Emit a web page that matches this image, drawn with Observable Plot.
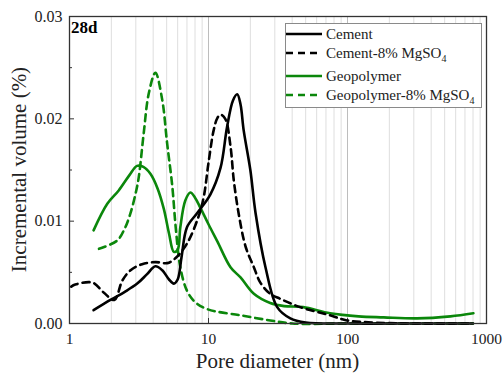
<!DOCTYPE html>
<html><head><meta charset="utf-8">
<script src="https://cdn.jsdelivr.net/npm/d3@7"></script>
<script src="https://cdn.jsdelivr.net/npm/@observablehq/plot@0.6"></script>
<style>
body{margin:0;background:#fff}
svg{font-family:"Liberation Serif",serif}
</style>
</head><body><div id="chart"></div>
<script>
// ---- data ----
const cementD = [1.49, 1.97, 2.5, 3.07, 3.6, 4.15, 4.65, 5.2, 5.63, 6.0, 6.4, 7.0, 8.3, 10.3, 12.2, 13.6, 15.0, 16.1, 17.0, 17.9, 20, 21.8, 25.7, 31.2, 38.8, 50, 100, 300, 800];
const cementV = [0.0013, 0.0023, 0.0031, 0.0039, 0.0048, 0.0056, 0.0052, 0.0043, 0.0039, 0.0043, 0.0065, 0.0094, 0.0108, 0.0126, 0.0152, 0.0192, 0.0218, 0.0224, 0.0214, 0.0189, 0.0150, 0.0108, 0.0055, 0.0016, 0.0005, 0.0001, 0.0000, 0.0000, 0.0000];

const cementMgD = [1.03, 1.10, 1.46, 1.77, 2.1, 2.4, 2.75, 3.33, 4.15, 5.05, 5.8, 7.0, 8.5, 9.25, 10.0, 10.9, 11.6, 12.2, 13.2, 14.4, 15.2, 16.5, 18.5, 21.2, 23.6, 27.8, 33, 45.6, 75, 99, 150, 300, 800];
const cementMgV = [0.0036, 0.0038, 0.0040, 0.0030, 0.0023, 0.0042, 0.0052, 0.0058, 0.0060, 0.0059, 0.0064, 0.0078, 0.0105, 0.0124, 0.0157, 0.0189, 0.0201, 0.0204, 0.0200, 0.0173, 0.0140, 0.0107, 0.0075, 0.0055, 0.0040, 0.0029, 0.0024, 0.0016, 0.0008, 0.0003, 0.0001, 0.0000, 0.0000];

const geoD = [1.49, 1.87, 2.26, 2.7, 3.06, 3.4, 3.83, 4.3, 4.77, 5.2, 5.63, 6.0, 6.27, 6.8, 7.4, 8.0, 8.75, 10.0, 11.6, 14.4, 17, 21.2, 27.8, 35, 48, 75, 120, 182, 316, 550, 805];
const geoV = [0.0091, 0.0117, 0.0130, 0.0145, 0.0154, 0.0153, 0.0146, 0.0132, 0.0112, 0.0088, 0.0070, 0.0072, 0.0094, 0.0120, 0.0128, 0.0123, 0.0113, 0.0097, 0.0080, 0.0055, 0.0045, 0.0029, 0.0020, 0.0017, 0.0016, 0.0010, 0.0007, 0.0006, 0.0005, 0.0007, 0.0010];

const geoMgD = [1.63, 2.2, 2.5, 2.75, 3.0, 3.15, 3.42, 3.72, 4.15, 4.64, 5.04, 5.49, 5.8, 6.27, 7.0, 8.0, 9.8, 17, 27.8, 40, 100, 800];
const geoMgV = [0.0073, 0.0081, 0.0093, 0.0108, 0.0128, 0.0143, 0.0186, 0.0225, 0.0245, 0.0219, 0.0176, 0.0134, 0.0095, 0.0055, 0.0032, 0.0021, 0.0014, 0.0008, 0.0003, 0.0000, 0.0000, 0.0000];

const seriesNames = ["Cement", "Cement-8% MgSO", "Geopolymer", "Geopolymer-8% MgSO"];
const xTicks = [1, 10, 100, 1000];
const yTicks = [0, 0.01, 0.02, 0.03];
const yMinor = [0.005, 0.015, 0.025];
const xMinor = [2,3,4,5,6,7,8,9,20,30,40,50,60,70,80,90,200,300,400,500,600,700,800,900];
const xMajorGrid = [10, 100];
const panelLabel = "28d";
const xTitle = "Pore diameter (nm)";
const yTitle = "Incremental volume (%)";

// ---- build ----
const toRows = (ds, vs) => ds.map((d, i) => ({d, v: vs[i]}));
const W = 504, H = 376, mL = 69, mR = 18, mT = 16, mB = 53;
const green = "#0b870b", black = "#000";
const lw = 2.6, dash = "7,5";
const frameH = H - mT - mB, frameW = W - mL - mR;

const chart = Plot.plot({
  width: W, height: H,
  marginLeft: mL, marginRight: mR, marginTop: mT, marginBottom: mB,
  style: {fontFamily: "Liberation Serif", fontSize: "16px", color: "#222", background: "#fff"},
  x: {type: "log", domain: [1, 1000]},
  y: {domain: [0, 0.03]},
  marks: [
    Plot.ruleX(xMinor, {stroke: "#dedede", strokeWidth: 1}),
    Plot.ruleX(xMajorGrid, {stroke: "#bdbdbd", strokeWidth: 1}),
    Plot.tickY(yTicks, {y: d => d, insetRight: frameW - 5, stroke: "#333"}),
    Plot.tickY(yMinor, {y: d => d, insetRight: frameW - 3, stroke: "#333"}),
    Plot.tickX(xTicks, {x: d => d, insetTop: frameH - 5, stroke: "#333"}),
    Plot.line(toRows(geoMgD, geoMgV), {x: "d", y: "v", stroke: green, strokeWidth: lw, strokeDasharray: dash, curve: "catmull-rom"}),
    Plot.line(toRows(geoD, geoV), {x: "d", y: "v", stroke: green, strokeWidth: lw, curve: "catmull-rom"}),
    Plot.line(toRows(cementMgD, cementMgV), {x: "d", y: "v", stroke: black, strokeWidth: lw, strokeDasharray: dash, curve: "catmull-rom"}),
    Plot.line(toRows(cementD, cementV), {x: "d", y: "v", stroke: black, strokeWidth: lw, curve: "catmull-rom"}),
    Plot.frame({stroke: "#333", strokeWidth: 1.3}),
    Plot.axisY({ticks: yTicks, tickSize: 0, tickPadding: 7, tickFormat: d3.format(".2f"), label: null, fontSize: 16}),
    Plot.axisX({ticks: xTicks, tickSize: 0, tickPadding: 9, tickFormat: d => String(d), label: null, fontSize: 15.5})
  ]
});
document.getElementById("chart").appendChild(chart);

const svg = d3.select(chart);
// axis titles
svg.append("text").attr("x", mL + frameW / 2).attr("y", H - 8).attr("text-anchor", "middle")
  .attr("font-size", 21).attr("fill", "#222").text(xTitle);
svg.append("text").attr("transform", `translate(26,${mT + frameH / 2}) rotate(-90)`).attr("text-anchor", "middle")
  .attr("font-size", 21).attr("fill", "#222").text(yTitle);
// panel label
svg.append("text").attr("x", mL + 2).attr("y", mT + 17).attr("font-size", 17).attr("font-weight", "bold")
  .attr("text-anchor", "start").attr("fill", "#000").text(panelLabel);

// legend
const lg = svg.append("g").attr("text-anchor", "start");
lg.append("rect").attr("x", 285.5).attr("y", 23.5).attr("width", 196).attr("height", 84)
  .attr("fill", "#fff").attr("stroke", "#8a8a8a").attr("stroke-width", 1);
const items = [
  {name: seriesNames[0], color: black, dashed: false, sub: false, y: 34},
  {name: seriesNames[1], color: black, dashed: true, sub: true, y: 53},
  {name: seriesNames[2], color: green, dashed: false, sub: false, y: 76},
  {name: seriesNames[3], color: green, dashed: true, sub: true, y: 95}
];
items.forEach(it => {
  lg.append("line").attr("x1", 286).attr("x2", 322).attr("y1", it.y).attr("y2", it.y)
    .attr("stroke", it.color).attr("stroke-width", lw).attr("stroke-dasharray", it.dashed ? "7,5" : null);
  const t = lg.append("text").attr("x", 326).attr("y", it.y + 5).attr("font-size", 15)
    .attr("text-anchor", "start").attr("fill", "#222");
  t.append("tspan").text(it.name);
  if (it.sub) t.append("tspan").attr("font-size", 10).attr("dy", 4).text("4");
});
</script></body></html>
